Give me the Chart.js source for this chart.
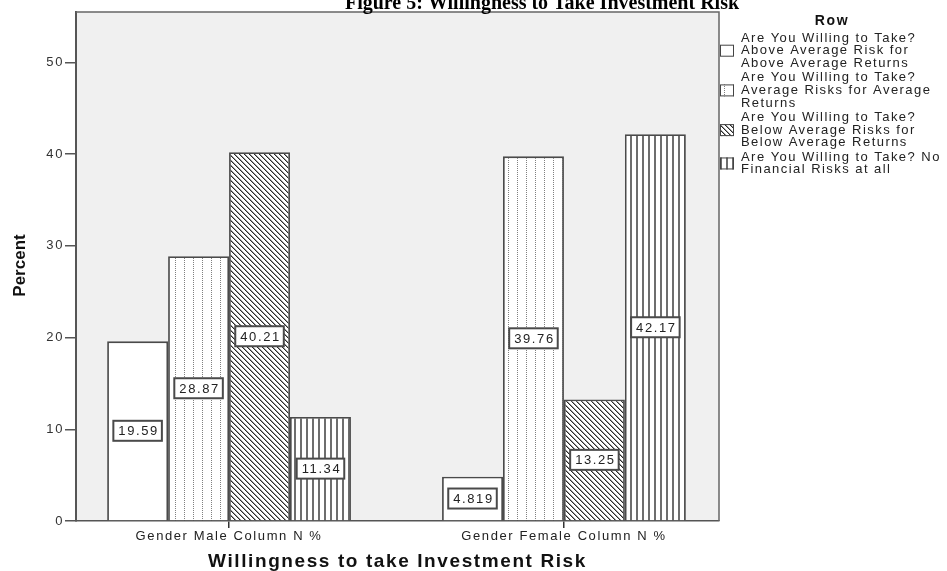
<!DOCTYPE html>
<html>
<head>
<meta charset="utf-8">
<script src="https://cdn.jsdelivr.net/npm/chart.js@4.4.0/dist/chart.umd.min.js"></script>
<style>
  html, body { margin: 0; padding: 0; background: #fff; }
</style>
</head>
<body>
<canvas id="chart" width="947" height="571"></canvas>
<script>
// data
const categories = ['Gender Male Column N %', 'Gender Female Column N %'];
const seriesLabels = [
  'Are You Willing to Take? Above Average Risk for Above Average Returns',
  'Are You Willing to Take? Average Risks for Average Returns',
  'Are You Willing to Take? Below Average Risks for Below Average Returns',
  'Are You Willing to Take? No Financial Risks at all',
];
// legend wraps the same way as the original
const legendLines = [
  ['Are You Willing to Take?', 'Above Average Risk for', 'Above Average Returns'],
  ['Are You Willing to Take?', 'Average Risks for Average', 'Returns'],
  ['Are You Willing to Take?', 'Below Average Risks for', 'Below Average Returns'],
  ['Are You Willing to Take? No', 'Financial Risks at all'],
];
const aboveAverage = [19.59, 4.819];
const average      = [28.87, 39.76];
const belowAverage = [40.21, 13.25];
const noRisk       = [11.34, 42.17];
const yTicks = [0, 10, 20, 30, 40, 50];

const FONT = '"Liberation Sans", Arial, sans-serif';
const SPACING = '1.6px';
Chart.defaults.font.family = FONT;

const canvas = document.getElementById('chart');
const mainCtx = canvas.getContext('2d');

// hatch fills like SPSS monochrome bars
function makePattern(w, h, paint) {
  const c = document.createElement('canvas');
  c.width = w; c.height = h;
  const g = c.getContext('2d');
  g.fillStyle = '#fff';
  g.fillRect(0, 0, w, h);
  paint(g);
  return mainCtx.createPattern(c, 'repeat');
}

const dotted = makePattern(9, 2, (g) => {
  g.fillStyle = '#808080';
  g.fillRect(4, 0, 1, 1);
});
const hatched = makePattern(5, 5, (g) => {
  for (let i = 0; i < 5; i++) {
    g.fillStyle = '#2a2a2a';
    g.fillRect(i, i, 1, 1);
    g.fillStyle = '#999';
    g.fillRect((i + 1) % 5, i, 1, 1);
  }
});
const striped = makePattern(6, 1, (g) => {
  g.fillStyle = '#6e6e6e';
  g.fillRect(0, 0, 2, 1);
});

const seriesValues = [aboveAverage, average, belowAverage, noRisk];
const fills = ['#ffffff', dotted, hatched, striped];

const datasets = seriesValues.map((vals, s) => ({
  label: seriesLabels[s],
  data: vals.map((v, i) => ({ x: i, y: v })),
  backgroundColor: fills[s],
  borderColor: '#4a4a4a',
  borderWidth: 1.8,
  barPercentage: 1,
  categoryPercentage: 0.728,
}));

const fmt = (v) => String(Number(v.toPrecision(4)));

// wide letter spacing of the original text + grey plot frame
const framePlugin = {
  id: 'frame',
  beforeUpdate(chart) { chart.ctx.letterSpacing = SPACING; },
  beforeDraw(chart) {
    chart.ctx.letterSpacing = SPACING;
    const { ctx, chartArea: a } = chart;
    ctx.save();
    ctx.fillStyle = '#f0f0f0';
    ctx.fillRect(a.left, a.top, a.right - a.left, a.bottom - a.top);
    ctx.restore();
  },
  beforeDatasetsDraw(chart) {
    const { ctx, chartArea: a } = chart;
    ctx.save();
    ctx.strokeStyle = '#666';
    ctx.lineWidth = 1.5;
    ctx.beginPath();
    ctx.moveTo(a.left, a.top);
    ctx.lineTo(a.right, a.top);
    ctx.lineTo(a.right, a.bottom);
    ctx.stroke();
    ctx.restore();
  },
};

const valueLabels = {
  id: 'valueLabels',
  afterDatasetsDraw(chart) {
    const ctx = chart.ctx;
    ctx.save();
    ctx.letterSpacing = SPACING;
    ctx.font = '13px ' + FONT;
    ctx.textAlign = 'center';
    ctx.textBaseline = 'middle';
    chart.data.datasets.forEach((ds, di) => {
      const meta = chart.getDatasetMeta(di);
      meta.data.forEach((bar, i) => {
        const text = fmt(ds.data[i].y);
        const cx = bar.x;
        const cy = (bar.y + bar.base) / 2;
        const w = ctx.measureText(text).width + 8;
        const h = 20;
        ctx.fillStyle = '#fff';
        ctx.fillRect(cx - w / 2, cy - h / 2, w, h);
        ctx.strokeStyle = '#4a4a4a';
        ctx.lineWidth = 2;
        ctx.strokeRect(cx - w / 2, cy - h / 2, w, h);
        ctx.fillStyle = '#222';
        ctx.fillText(text, cx + 1, cy + 1);
      });
    });
    ctx.restore();
  },
};

const sideLegend = {
  id: 'sideLegend',
  afterDraw(chart) {
    const { ctx, chartArea: a } = chart;
    ctx.save();
    // figure caption, cut off at the top like the source
    ctx.letterSpacing = '0px';
    ctx.font = 'bold 20px "Liberation Serif", "Times New Roman", serif';
    ctx.fillStyle = '#000';
    ctx.textAlign = 'center';
    ctx.textBaseline = 'alphabetic';
    ctx.fillText('Figure 5: Willingness to Take Investment Risk', 542, 9);

    // y axis title, condensed bold
    ctx.save();
    ctx.translate(20, (a.top + a.bottom) / 2 - 1);
    ctx.rotate(-Math.PI / 2);
    ctx.font = 'bold 17px ' + FONT;
    ctx.textBaseline = 'middle';
    ctx.fillStyle = '#111';
    ctx.fillText('Percent', 0, 0);
    ctx.restore();

    ctx.letterSpacing = '1.6px';
    ctx.font = 'bold 14px ' + FONT;
    ctx.fillStyle = '#111';
    ctx.textBaseline = 'middle';
    ctx.fillText('Row', a.right + 113, 21);

    ctx.letterSpacing = '1.45px';
    ctx.font = '13px ' + FONT;
    ctx.textAlign = 'left';
    const lineH = 12.7;
    let y = 38;
    legendLines.forEach((lines, i) => {
      ctx.fillStyle = '#222';
      lines.forEach((t, k) => ctx.fillText(t, a.right + 22, y + k * lineH));
      const mid = y + (lines.length - 1) * lineH / 2;
      ctx.fillStyle = chart.data.datasets[i].backgroundColor;
      ctx.fillRect(a.right + 1, mid - 6, 14, 12);
      ctx.strokeStyle = '#444';
      ctx.lineWidth = 1;
      ctx.strokeRect(a.right + 1.5, mid - 5.5, 13, 11);
      y += lines.length * lineH + 1.6;
    });
    ctx.restore();
  },
};

new Chart(canvas, {
  type: 'bar',
  data: { datasets },
  options: {
    responsive: false,
    animation: false,
    events: [],
    layout: { padding: { top: 12, right: 228, bottom: 0, left: 0 } },
    plugins: {
      legend: { display: false },
      tooltip: { enabled: false },
    },
    scales: {
      x: {
        type: 'linear',
        min: -0.457,
        max: 1.463,
        offset: false,
        afterBuildTicks: (axis) => { axis.ticks = categories.map((_, i) => ({ value: i })); },
        afterFit: (axis) => { axis.height = 50; },
        grid: { offset: false, drawOnChartArea: false, drawTicks: true, tickLength: 7, color: '#333', lineWidth: 1.5 },
        border: { display: true, color: '#555', width: 1.5 },
        ticks: {
          callback: (v) => categories[v] ?? '',
          color: '#222',
          font: { size: 13 },
          padding: 1,
          maxRotation: 0,
          autoSkip: false,
        },
        title: {
          display: true,
          text: 'Willingness to take Investment Risk',
          color: '#111',
          font: { size: 19, weight: 'bold', lineHeight: 1 },
          padding: 0,
        },
      },
      y: {
        min: 0,
        max: 55.5,
        afterBuildTicks: (axis) => { axis.ticks = yTicks.map((v) => ({ value: v })); },
        afterFit: (axis) => { axis.width = 76; },
        grid: { drawOnChartArea: false, tickLength: 11, color: '#555', lineWidth: 1.5 },
        border: { color: '#555', width: 2 },
        ticks: { color: '#333', font: { size: 13 }, padding: 1 },
      },
    },
  },
  plugins: [framePlugin, valueLabels, sideLegend],
});
</script>
</body>
</html>
